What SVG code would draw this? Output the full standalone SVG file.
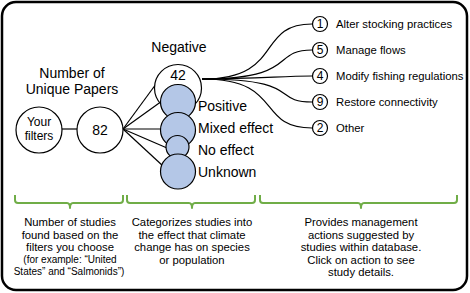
<svg xmlns="http://www.w3.org/2000/svg" width="470" height="293" viewBox="0 0 470 293">
<style>
text{font-family:"Liberation Sans",Arial,sans-serif;fill:#000}
.t14{font-size:14px}
.t11{font-size:11.3px}
.t10{font-size:10px}
.t12{font-size:12px}
.mid{text-anchor:middle}
.w{fill:#fff;stroke:#000;stroke-width:1.2}
.b{fill:#b4c7e7;stroke:#000;stroke-width:1.2}
.ln{fill:none;stroke:#000;stroke-width:1.2}
.br{fill:none;stroke:#70ad47;stroke-width:2;stroke-linejoin:round}
</style>
<rect x="2" y="2" width="465" height="288" rx="14" fill="#fff" stroke="#000" stroke-width="2.5"/>
<g id="connectors">
<line class="ln" x1="62" y1="129" x2="77" y2="129"/>
<line class="ln" x1="123" y1="129" x2="156" y2="84"/>
<line class="ln" x1="123" y1="129" x2="162" y2="101"/>
<line class="ln" x1="123" y1="129" x2="161" y2="129"/>
<line class="ln" x1="123" y1="129" x2="167" y2="148"/>
<line class="ln" x1="123" y1="129" x2="163" y2="166"/>
<path class="ln" d="M202,79 C285,79 255,24 312,24"/>
<path class="ln" d="M202,79 C300,79 270,50 312,50"/>
<path class="ln" d="M202,79 C260,79 280,76 312,76"/>
<path class="ln" d="M202,79 C305,79 270,102 312,102"/>
<path class="ln" d="M202,79 C285,79 255,128 312,128"/>
</g>
<g id="title">
<text class="t14 mid" x="72" y="78">Number of</text>
<text class="t14 mid" x="72" y="94">Unique Papers</text>
</g>
<g id="your-filters">
<circle class="w" cx="39" cy="130" r="23"/>
<text class="t12 mid" x="39" y="126">Your</text>
<text class="t12 mid" x="39" y="140">filters</text>
</g>
<g id="n82">
<circle class="w" cx="100" cy="130" r="23"/>
<text class="t14 mid" x="100" y="135">82</text>
</g>
<g id="negative">
<text class="t14 mid" x="179" y="52">Negative</text>
<circle class="w" cx="178" cy="88" r="23.5"/>
<text class="t14 mid" x="178" y="80">42</text>
</g>
<g id="positive">
<circle class="b" cx="178" cy="102" r="17.5"/>
<text class="t14" x="198" y="111">Positive</text>
</g>
<g id="mixed">
<circle class="b" cx="178" cy="130" r="17.5"/>
<text class="t14" x="198" y="133">Mixed effect</text>
</g>
<g id="noeffect">
<circle class="b" cx="177.5" cy="147" r="11.5"/>
<text class="t14" x="198" y="155">No effect</text>
</g>
<g id="unknown">
<circle class="b" cx="178" cy="171.5" r="17.5"/>
<text class="t14" x="198" y="177">Unknown</text>
</g>
<g id="a1">
<circle class="w" cx="320" cy="24" r="7.5"/>
<text class="t12 mid" x="320" y="28">1</text>
<text class="t11" x="336" y="28">Alter stocking practices</text>
</g>
<g id="a5">
<circle class="w" cx="320" cy="50" r="7.5"/>
<text class="t12 mid" x="320" y="54">5</text>
<text class="t11" x="336" y="54">Manage flows</text>
</g>
<g id="a4">
<circle class="w" cx="320" cy="76" r="7.5"/>
<text class="t12 mid" x="320" y="80">4</text>
<text class="t11" x="336" y="80">Modify fishing regulations</text>
</g>
<g id="a9">
<circle class="w" cx="320" cy="102" r="7.5"/>
<text class="t12 mid" x="320" y="106">9</text>
<text class="t11" x="336" y="106">Restore connectivity</text>
</g>
<g id="a2">
<circle class="w" cx="320" cy="128" r="7.5"/>
<text class="t12 mid" x="320" y="132">2</text>
<text class="t11" x="336" y="132">Other</text>
</g>
<g id="brackets">
<path class="br" d="M15,195 L15,200 Q15,203 18,203 L67,203 Q70,203 70,208 Q70,203 73,203 L120,203 Q123,203 123,200 L123,195"/>
<path class="br" d="M127,195 L127,200 Q127,203 130,203 L189,203 Q192,203 192,208 Q192,203 195,203 L252,203 Q255,203 255,200 L255,195"/>
<path class="br" d="M260,195 L260,200 Q260,203 263,203 L358,203 Q361,203 361,208 Q361,203 364,203 L454,203 Q457,203 457,200 L457,195"/>
</g>
<g id="desc1">
<text class="t11 mid" x="70" y="226">Number of studies</text>
<text class="t11 mid" x="70" y="238.5">found based on the</text>
<text class="t11 mid" x="70" y="251">filters you choose</text>
<text class="t10 mid" x="70" y="263">(for example: “United</text>
<text class="t10 mid" x="69" y="275">States” and “Salmonids”)</text>
</g>
<g id="desc2">
<text class="t11 mid" x="192" y="226">Categorizes studies into</text>
<text class="t11 mid" x="192" y="238.5">the effect that climate</text>
<text class="t11 mid" x="192" y="251">change has on species</text>
<text class="t11 mid" x="192" y="263.5">or population</text>
</g>
<g id="desc3">
<text class="t11 mid" x="361" y="226">Provides management</text>
<text class="t11 mid" x="361" y="238.5">actions suggested by</text>
<text class="t11 mid" x="361" y="251">studies within database.</text>
<text class="t11 mid" x="361" y="263.5">Click on action to see</text>
<text class="t11 mid" x="361" y="276">study details.</text>
</g>
</svg>
